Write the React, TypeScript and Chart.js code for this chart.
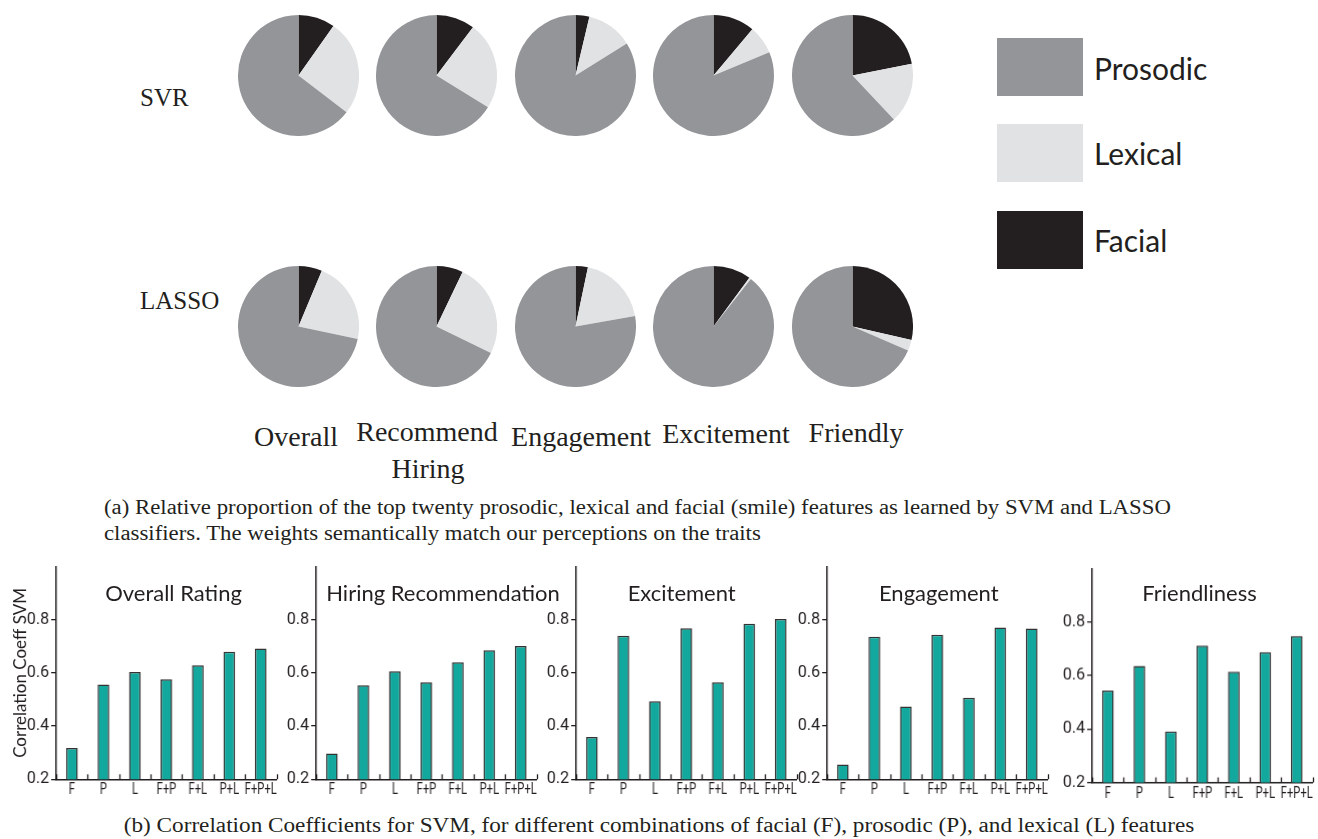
import React, { useEffect, useRef } from "react";
import { Chart, registerables } from "chart.js";

Chart.register(...registerables);

// ---------- data ----------
const featureTypes = ["Facial", "Lexical", "Prosodic"];
const legendItems = ["Prosodic", "Lexical", "Facial"];
const rowLabels = ["SVR", "LASSO"];
const traitText = ["Overall", "Recommend", "Engagement", "Excitement", "Friendly"];
const traitSecondLine = "Hiring";

// percentage of the top-twenty features per trait (clockwise from 12 o'clock: facial, lexical, prosodic)
const svrFacial = [9.8, 10.3, 3.7, 11.1, 21.9];
const svrLexical = [25.6, 23.5, 12.4, 7.6, 16.1];
const svrProsodic = [64.6, 66.2, 83.9, 81.3, 62.0];
const lassoFacial = [6.3, 7.1, 3.3, 10.1, 28.6];
const lassoLexical = [22.0, 25.1, 18.9, 0.5, 2.9];
const lassoProsodic = [71.7, 67.8, 77.8, 89.4, 68.5];

const barCategories = ["F", "P", "L", "F+P", "F+L", "P+L", "F+P+L"];
const barTitles = ["Overall Rating", "Hiring Recommendation", "Excitement", "Engagement", "Friendliness"];
const overallRating = [0.318, 0.557, 0.604, 0.576, 0.629, 0.68, 0.692];
const hiringRecommendation = [0.297, 0.554, 0.606, 0.565, 0.64, 0.685, 0.701];
const excitement = [0.359, 0.74, 0.494, 0.768, 0.565, 0.785, 0.803];
const engagement = [0.256, 0.736, 0.474, 0.744, 0.507, 0.771, 0.767];
const friendliness = [0.544, 0.636, 0.391, 0.712, 0.614, 0.688, 0.748];
const yTickValues = [0.2, 0.4, 0.6, 0.8];
const yAxisTitle = "Correlation Coeff SVM";

const captionA1 =
  "(a) Relative proportion of the top twenty prosodic, lexical and facial (smile) features as learned by SVM and LASSO";
const captionA2 = "classifiers. The weights semantically match our perceptions on the traits";
const captionB =
  "(b) Correlation Coefficients for SVM, for different combinations of facial (F), prosodic (P), and lexical (L) features";

// ---------- styles ----------
const PROSODIC_COLOR = "#939598";
const LEXICAL_COLOR = "#e1e2e4";
const FACIAL_COLOR = "#231f20";
const TEAL = "#13a89e";
const INK = "#231f20";
const SERIF = "'Liberation Serif', 'DejaVu Serif', serif";
const SANS = "Lato, 'Open Sans', 'Noto Sans', sans-serif";
const COND = "Roboto, 'Liberation Sans', sans-serif";

// inward tick marks at the category boundaries of the x axis
const innerTicks = {
  id: "innerTicks",
  afterDatasetsDraw(chart: any) {
    const xs = chart.scales.x;
    const ctx = chart.ctx;
    const bottom = chart.chartArea.bottom;
    ctx.save();
    ctx.strokeStyle = INK;
    ctx.lineWidth = 1.3;
    for (let i = 0; i <= barCategories.length; i++) {
      const px = Math.round(xs.getPixelForValue(i - 0.5)) + 0.5;
      ctx.beginPath();
      ctx.moveTo(px, bottom);
      ctx.lineTo(px, bottom - 5);
      ctx.stroke();
    }
    ctx.restore();
  },
};

// condensed category labels (the installed fonts have no condensed face)
const condensedXLabels = {
  id: "condensedXLabels",
  afterDraw(chart: any) {
    const xs = chart.scales.x;
    const ctx = chart.ctx;
    const y = chart.chartArea.bottom + 3;
    ctx.save();
    ctx.fillStyle = INK;
    ctx.font = `16px ${COND}`;
    ctx.textAlign = "center";
    ctx.textBaseline = "top";
    (chart.data.labels as string[]).forEach((lab, i) => {
      const x = xs.getPixelForValue(i);
      ctx.save();
      ctx.translate(x, y);
      ctx.scale(0.7, 1);
      ctx.fillText(String(lab), 0, 0);
      ctx.restore();
    });
    ctx.restore();
  },
};

function PieChart({ values, cx, cy, r }: { values: number[]; cx: number; cy: number; r: number }) {
  const ref = useRef<HTMLCanvasElement>(null);
  useEffect(() => {
    const chart = new Chart(ref.current as HTMLCanvasElement, {
      type: "pie",
      data: {
        labels: featureTypes,
        datasets: [
          {
            data: values,
            backgroundColor: [FACIAL_COLOR, LEXICAL_COLOR, PROSODIC_COLOR],
            borderWidth: 0,
            hoverOffset: 0,
          },
        ],
      },
      options: {
        animation: false,
        responsive: true,
        maintainAspectRatio: false,
        events: [],
        layout: { padding: 0 },
        plugins: { legend: { display: false }, tooltip: { enabled: false } },
      },
    });
    return () => chart.destroy();
  }, []);
  return (
    <div style={{ position: "absolute", left: cx - r, top: cy - r, width: 2 * r, height: 2 * r }}>
      <canvas ref={ref} />
    </div>
  );
}

function BarPanel({
  values,
  axisX,
  top,
  bottom,
  showYTitle,
}: {
  values: number[];
  axisX: number;
  top: number;
  bottom: number;
  showYTitle: boolean;
}) {
  const ref = useRef<HTMLCanvasElement>(null);
  const yw = showYTitle ? axisX : 44;
  const plotW = 219.5;
  const padTop = 10;
  const xh = 26;
  const padRight = 10;
  const left = axisX - yw;
  const width = yw + plotW + padRight;
  const height = padTop + (bottom - top) + xh;
  useEffect(() => {
    const chart = new Chart(ref.current as HTMLCanvasElement, {
      type: "bar",
      data: {
        labels: barCategories,
        datasets: [
          {
            data: values,
            backgroundColor: TEAL,
            borderColor: "#333333",
            borderWidth: 1.5,
            barPercentage: 0.37,
            categoryPercentage: 1,
          },
        ],
      },
      options: {
        animation: false,
        responsive: true,
        maintainAspectRatio: false,
        events: [],
        layout: { padding: { top: padTop, right: padRight, left: 0, bottom: 0 } },
        plugins: { legend: { display: false }, tooltip: { enabled: false } },
        scales: {
          x: {
            grid: { display: false, drawTicks: false },
            border: { display: true, color: INK, width: 1.5 },
            ticks: { display: false },
            afterFit: (s: any) => {
              s.height = xh;
            },
          },
          y: {
            min: 0.2,
            max: 1.0,
            afterBuildTicks: (s: any) => {
              s.ticks = yTickValues.map((v) => ({ value: v }));
            },
            ticks: {
              padding: 2,
              color: INK,
              font: { family: COND, size: 16 },
              callback: (v: any) => Number(v).toFixed(1),
            },
            grid: { drawOnChartArea: false, drawTicks: true, tickLength: 5, color: INK, lineWidth: 1.3 },
            border: { display: true, color: INK, width: 1.5 },
            title: {
              display: showYTitle,
              text: yAxisTitle,
              color: INK,
              font: { family: SANS, size: 17 },
              padding: { top: 10, bottom: 0 },
            },
            afterFit: (s: any) => {
              s.width = yw;
            },
          },
        },
      },
      plugins: [innerTicks, condensedXLabels],
    });
    return () => chart.destroy();
  }, []);
  return (
    <div style={{ position: "absolute", left, top: top - padTop, width, height }}>
      <canvas ref={ref} />
    </div>
  );
}

// text placed by its baseline
function Txt({
  text,
  x,
  baseline,
  size,
  family,
  asc,
  align = "left",
  sx = 1,
}: {
  text: string;
  x: number;
  baseline: number;
  size: number;
  family: string;
  asc: number;
  align?: "left" | "center";
  sx?: number;
}) {
  const top = baseline - asc * size;
  const transform =
    align === "center" ? `translateX(-50%) scaleX(${sx})` : sx !== 1 ? `scaleX(${sx})` : undefined;
  const style: React.CSSProperties = {
    position: "absolute",
    top,
    left: x,
    fontFamily: family,
    fontSize: size,
    lineHeight: `${size}px`,
    color: INK,
    whiteSpace: "nowrap",
    transform,
    transformOrigin: align === "center" ? "center" : "left",
  };
  return <div style={style}>{text}</div>;
}

const SERIF_ASC = 0.8375;
const SANS_ASC = 0.887;

export default function App() {
  const pieXs = [298, 436.5, 575, 713.5, 852];
  const pieR = 60.5;
  const svrY = 75;
  const lassoY = 326;
  const svrData = svrFacial.map((f, i) => [f, svrLexical[i], svrProsodic[i]]);
  const lassoData = lassoFacial.map((f, i) => [f, lassoLexical[i], lassoProsodic[i]]);
  const legendColors = [PROSODIC_COLOR, LEXICAL_COLOR, FACIAL_COLOR];
  const legendTops = [38.3, 124, 211];

  const traitPos = [
    { x: 296, b: 446 },
    { x: 427, b: 441 },
    { x: 581, b: 446 },
    { x: 726, b: 443 },
    { x: 856, b: 442 },
  ];

  const barSeries = [overallRating, hiringRecommendation, excitement, engagement, friendliness];
  const axisXs = [56, 316, 576, 827, 1092];
  const tops = [565, 565, 565, 565, 567];
  const bottoms = [779.3, 779.3, 779.3, 779.3, 781.5];
  const titleXs = [173.5, 443, 681.7, 938.8, 1199.5];

  return (
    <div
      style={{
        position: "absolute",
        left: 0,
        top: 0,
        width: 1318,
        height: 839,
        background: "#ffffff",
        overflow: "hidden",
      }}
    >
      <Txt text={rowLabels[0]} x={140} baseline={106} size={25} family={SERIF} asc={SERIF_ASC} />
      <Txt text={rowLabels[1]} x={140} baseline={309} size={25} family={SERIF} asc={SERIF_ASC} />

      {svrData.map((d, i) => (
        <PieChart key={"s" + i} values={d} cx={pieXs[i]} cy={svrY} r={pieR} />
      ))}
      {lassoData.map((d, i) => (
        <PieChart key={"l" + i} values={d} cx={pieXs[i]} cy={lassoY} r={pieR} />
      ))}

      {legendItems.map((name, i) => (
        <React.Fragment key={name}>
          <div
            style={{
              position: "absolute",
              left: 997,
              top: legendTops[i],
              width: 86,
              height: 57.5,
              background: legendColors[i],
            }}
          />
          <Txt
            text={name}
            x={1094}
            baseline={legendTops[i] + 41}
            size={30}
            family={SANS}
            asc={SANS_ASC}
          />
        </React.Fragment>
      ))}

      {traitText.map((t, i) => (
        <Txt
          key={t}
          text={t}
          x={traitPos[i].x}
          baseline={traitPos[i].b}
          size={28}
          family={SERIF}
          asc={SERIF_ASC}
          align="center"
        />
      ))}
      <Txt text={traitSecondLine} x={428} baseline={478} size={28} family={SERIF} asc={SERIF_ASC} align="center" />

      <Txt text={captionA1} x={104} baseline={514} size={20} family={SERIF} asc={SERIF_ASC} sx={1.14} />
      <Txt text={captionA2} x={104} baseline={540} size={20} family={SERIF} asc={SERIF_ASC} sx={1.14} />

      {barSeries.map((vals, i) => (
        <BarPanel
          key={"b" + i}
          values={vals}
          axisX={axisXs[i]}
          top={tops[i]}
          bottom={bottoms[i]}
          showYTitle={i === 0}
        />
      ))}
      {barTitles.map((t, i) => (
        <Txt
          key={t}
          text={t}
          x={titleXs[i]}
          baseline={601.7}
          size={22}
          family={SANS}
          asc={SANS_ASC}
          align="center"
        />
      ))}

      <Txt text={captionB} x={659} baseline={832} size={20} family={SERIF} asc={SERIF_ASC} align="center" sx={1.16} />
    </div>
  );
}
